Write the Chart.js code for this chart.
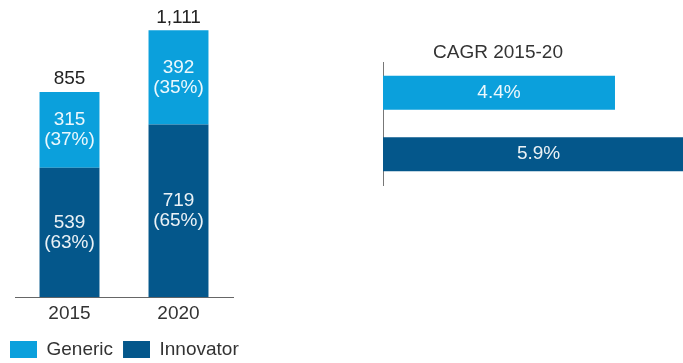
<!DOCTYPE html>
<html>
<head>
<meta charset="utf-8">
<script src="https://cdn.jsdelivr.net/npm/chart.js@4.4.1/dist/chart.umd.min.js"></script>
<style>
  html, body { margin: 0; padding: 0; background: #fff; }
  body { width: 683px; height: 363px; position: relative; overflow: hidden; }
  #mix { position: absolute; left: 0; top: 0; }
  #cagr { position: absolute; left: 313px; top: 0; }
</style>
</head>
<body>
<canvas id="mix" width="280" height="363"></canvas>
<canvas id="cagr" width="370" height="190"></canvas>
<script>
  const years = ['2015', '2020'];
  const innovator = [539, 719];
  const generic = [315, 392];
  const innovatorPct = [63, 65];
  const genericPct = [37, 35];
  const totals = [855, 1111];

  const cagrLabels = ['Generic', 'Innovator'];
  const cagrValues = [4.4, 5.9];

  const LIGHT = '#0ba0dc';
  const DARK = '#04578b';
  const FONT = "'Liberation Sans', Arial, sans-serif";
  const FS = 19;
  Chart.defaults.font.family = FONT;

  const fmt = (n) => Number(n).toLocaleString('en-US');

  // 棒の中に値と割合、上に合計を書く
  const stackLabels = {
    id: 'stackLabels',
    afterDatasetsDraw(chart) {
      const ctx = chart.ctx;
      ctx.save();
      ctx.font = FS + 'px ' + FONT;
      ctx.textAlign = 'center';
      ctx.textBaseline = 'middle';
      const pcts = [innovatorPct, genericPct];
      chart.data.datasets.forEach((ds, di) => {
        chart.getDatasetMeta(di).data.forEach((el, i) => {
          const cy = (el.y + el.base) / 2;
          ctx.fillStyle = 'rgba(255,255,255,0.92)';
          ctx.fillText(fmt(ds.data[i]), el.x, cy - 10);
          ctx.fillText('(' + pcts[di][i] + '%)', el.x, cy + 10);
        });
      });
      const top = chart.getDatasetMeta(chart.data.datasets.length - 1).data;
      ctx.fillStyle = '#222';
      top.forEach((el, i) => {
        ctx.fillText(fmt(totals[i]), el.x, el.y - 13);
      });
      ctx.restore();
    }
  };

  new Chart(document.getElementById('mix'), {
    type: 'bar',
    data: {
      labels: years,
      datasets: [
        { label: 'Innovator', data: innovator, backgroundColor: DARK,
          categoryPercentage: 1, barPercentage: 0.55 },
        { label: 'Generic', data: generic, backgroundColor: LIGHT,
          categoryPercentage: 1, barPercentage: 0.55 }
      ]
    },
    options: {
      responsive: false,
      animation: false,
      // 凡例を下端に寄せるため下は負の余白
      layout: { padding: { top: 9, right: 0, bottom: -6, left: 0 } },
      plugins: {
        legend: {
          position: 'bottom',
          align: 'start',
          reverse: true,
          labels: {
            boxWidth: 27, boxHeight: 17, padding: 10,
            color: '#333', font: { size: FS }
          }
        },
        tooltip: { enabled: false }
      },
      scales: {
        x: {
          stacked: true,
          grid: { display: false, drawTicks: false },
          border: { display: true, color: '#666', width: 1 },
          ticks: { color: '#333', font: { size: FS }, padding: 5 }
        },
        y: {
          stacked: true,
          min: 0, max: 1200,
          grid: { display: false, drawTicks: false },
          border: { display: false },
          ticks: { display: false },
          afterFit(s) { s.width = 15; }
        },
        // 右側の余白用
        pad: {
          position: 'right',
          grid: { display: false, drawTicks: false },
          border: { display: false },
          ticks: { display: false },
          afterFit(s) { s.width = 47; }
        }
      }
    },
    plugins: [stackLabels]
  });

  const cagrText = {
    id: 'cagrText',
    afterDatasetsDraw(chart) {
      const ctx = chart.ctx;
      ctx.save();
      ctx.font = FS + 'px ' + FONT;
      ctx.textAlign = 'center';
      ctx.textBaseline = 'middle';
      ctx.fillStyle = 'rgba(255,255,255,0.92)';
      chart.getDatasetMeta(0).data.forEach((el, i) => {
        ctx.fillText(cagrValues[i].toFixed(1) + '%', (el.x + el.base) / 2, el.y);
      });
      ctx.restore();
    }
  };

  new Chart(document.getElementById('cagr'), {
    type: 'bar',
    data: {
      labels: cagrLabels,
      datasets: [{
        data: cagrValues,
        backgroundColor: [LIGHT, DARK],
        categoryPercentage: 1, barPercentage: 0.55
      }]
    },
    options: {
      indexAxis: 'y',
      responsive: false,
      animation: false,
      layout: { padding: { top: 0, right: 0, bottom: 5, left: 0 } },
      plugins: {
        legend: { display: false },
        tooltip: { enabled: false },
        title: {
          display: true,
          text: 'CAGR 2015-20',
          color: '#333',
          font: { size: FS, weight: 'normal', lineHeight: 1 },
          padding: { top: 43, bottom: 0 }
        }
      },
      scales: {
        x: { display: false, min: 0, max: 5.69 },
        y: {
          grid: { display: false, drawTicks: false },
          border: { display: true, color: '#777', width: 1 },
          ticks: { display: false },
          afterFit(s) { s.width = 70; }
        }
      }
    },
    plugins: [cagrText]
  });
</script>
</body>
</html>
